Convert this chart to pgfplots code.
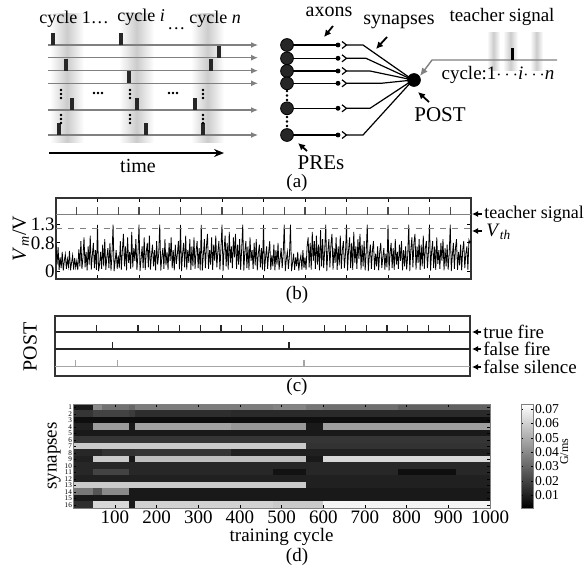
\documentclass[border=0pt]{standalone}
\usepackage{fontspec}
\setmainfont{Liberation Serif}
\usepackage{pgfplots}
\pgfplotsset{compat=1.18, /pgf/number format/assume math mode=true, /pgf/number format/1000 sep={}}
\usetikzlibrary{arrows.meta}
\newcommand{\fs}[1]{\fontsize{#1}{#1}\selectfont}
\begin{document}
\begin{tikzpicture}
% ---------------- overlay in pixel coordinates (panel a + annotations)
\begin{axis}[at={(0pt,0pt)}, anchor=north west, scale only axis, width=293.5pt, height=285.5pt,
  xmin=0, xmax=587, ymin=0, ymax=571, y dir=reverse, hide axis, clip=false]
% shaded cycle bands
\addplot[draw=none, left color=white, right color=white, middle color=gray!40] coordinates {(50,13)(84,13)(84,142)(50,142)};
\addplot[draw=none, left color=white, right color=white, middle color=gray!40] coordinates {(119,13)(154,13)(154,142)(119,142)};
\addplot[draw=none, left color=white, right color=white, middle color=gray!40] coordinates {(191,13)(224,13)(224,142)(191,142)};
% input lines
\addplot[gray, line width=0.6pt, -{Latex[length=3.5pt,width=3pt]}] coordinates {(48,45)(258,45)};
\addplot[gray, line width=0.6pt, -{Latex[length=3.5pt,width=3pt]}] coordinates {(48,57.7)(258,57.7)};
\addplot[gray, line width=0.6pt, -{Latex[length=3.5pt,width=3pt]}] coordinates {(48,70.7)(258,70.7)};
\addplot[gray, line width=0.6pt, -{Latex[length=3.5pt,width=3pt]}] coordinates {(48,83.3)(258,83.3)};
\addplot[gray, line width=0.6pt, -{Latex[length=3.5pt,width=3pt]}] coordinates {(48,110)(258,110)};
\addplot[gray, line width=0.6pt, -{Latex[length=3.5pt,width=3pt]}] coordinates {(48,135)(258,135)};
% input spikes
\addplot[only marks, mark=|, mark size=3pt, mark options={black!85, line width=2pt}] coordinates {
(53,39)(121,39)(219,51.7)(66,64.7)(211,64.7)(129,77.3)(72,104)(137,104)(195,104)(59,129)(146,129)(203,129)};
% ellipsis dots
\addplot[only marks, mark=*, mark size=0.45pt, black] coordinates {
(61,90)(61,94)(61,98)(130,90)(130,94)(130,98)(203,90)(203,94)(203,98)
(61,115)(61,119)(61,123)(130,115)(130,119)(130,123)(203,115)(203,119)(203,123)
(94,93)(98,93)(102,93)(169,93)(173,93)(177,93)
(287,91)(287,95.5)(287,100)(287,117)(287,121.5)(287,126)};
% time arrow
\addplot[black, line width=0.8pt, -{Stealth[length=5pt,width=4pt]}] coordinates {(49,153)(224,153)};
\node[font=\fs{10}] at (138,166) {time};
\node[font=\fs{9}, anchor=base west, inner sep=0pt] at (39,23) {cycle 1\ldots};
\node[font=\fs{9}, anchor=base west, inner sep=0pt] at (117,21) {cycle \textit{i}};
\node[font=\fs{9}, anchor=base west, inner sep=0pt] at (167,29) {\ldots};
\node[font=\fs{9}, anchor=base west, inner sep=0pt] at (189,23) {cycle \textit{n}};
% axons
\addplot[black, line width=0.7pt] coordinates {(287,45)(338,45)};
\addplot[black, line width=0.7pt] coordinates {(287,58.3)(338,58.3)};
\addplot[black, line width=0.7pt] coordinates {(287,71)(338,71)};
\addplot[black, line width=0.7pt] coordinates {(287,83.3)(338,83.3)};
\addplot[black, line width=0.7pt] coordinates {(287,108.3)(338,108.3)};
\addplot[black, line width=0.7pt] coordinates {(287,135)(338,135)};
\addplot[only marks, mark=*, mark size=1pt, black] coordinates {(338,45)(338,58.3)(338,71)(338,83.3)(338,108.3)(338,135)};
% synapse chevrons
\addplot[black, line width=0.6pt] coordinates {(342,41.5)(346.5,45)(342,48.5)};
\addplot[black, line width=0.6pt] coordinates {(342,54.8)(346.5,58.3)(342,61.8)};
\addplot[black, line width=0.6pt] coordinates {(342,67.5)(346.5,71)(342,74.5)};
\addplot[black, line width=0.6pt] coordinates {(342,79.8)(346.5,83.3)(342,86.8)};
\addplot[black, line width=0.6pt] coordinates {(342,104.8)(346.5,108.3)(342,111.8)};
\addplot[black, line width=0.6pt] coordinates {(342,131.5)(346.5,135)(342,138.5)};
% converging lines
\addplot[black, line width=0.6pt] coordinates {(347,45)(363,45)(413,80)};
\addplot[black, line width=0.6pt] coordinates {(347,58.3)(366,58.3)(413,80)};
\addplot[black, line width=0.6pt] coordinates {(347,71)(370,71)(413,80)};
\addplot[black, line width=0.6pt] coordinates {(347,83.3)(381,83.3)(413,80)};
\addplot[black, line width=0.6pt] coordinates {(347,108.3)(370,108.3)(413,80)};
\addplot[black, line width=0.6pt] coordinates {(347,135)(363,135)(413,80)};
% PRE neurons
\addplot[only marks, mark=*, mark size=3.2pt, mark options={fill=black!85, draw=black}] coordinates {(287,45)(287,58.3)(287,71)(287,83.3)(287,108.3)(287,135)};
\node[font=\fs{4}, text=white, inner sep=0pt] at (287,45) {1};
\node[font=\fs{4}, text=white, inner sep=0pt] at (287,58.3) {2};
\node[font=\fs{4}, text=white, inner sep=0pt] at (287,71) {3};
\node[font=\fs{4}, text=white, inner sep=0pt] at (287,83.3) {4};
\node[font=\fs{4}, text=white, inner sep=0pt] at (287,108.3) {9};
\node[font=\fs{4}, text=white, inner sep=0pt] at (287,135) {16};
% POST neuron
\addplot[only marks, mark=*, mark size=3.2pt, black] coordinates {(414,80)};
% teacher input
\addplot[draw=none, left color=white, right color=white, middle color=gray!40] coordinates {(487,32)(500,32)(500,70)(487,70)};
\addplot[draw=none, left color=white, right color=white, middle color=gray!40] coordinates {(503,32)(518,32)(518,70)(503,70)};
\addplot[draw=none, left color=white, right color=white, middle color=gray!40] coordinates {(530,32)(543,32)(543,70)(530,70)};
\addplot[gray, line width=0.7pt, -{Latex[length=4pt,width=3.5pt]}] coordinates {(557,60)(432,60)(420,76)};
\addplot[only marks, mark=|, mark size=3pt, mark options={black, line width=1.5pt}] coordinates {(512,54)};
\node[font=\fs{9.5}] at (502,17) {teacher signal};
\node[font=\fs{9.5}] at (498,75) {cycle:1$\cdots$\textit{i}$\cdots$\textit{n}};
\node[font=\fs{10}] at (329,12) {axons};
\addplot[black, line width=0.9pt, -{Latex[length=3.5pt,width=3.5pt]}] coordinates {(333,26)(324,37)};
\node[font=\fs{10}] at (399,22) {synapses};
\addplot[black, line width=0.9pt, -{Latex[length=3.5pt,width=3.5pt]}] coordinates {(387,37)(376,49)};
\node[font=\fs{10.5}] at (440,115) {POST};
\addplot[black, line width=0.9pt, -{Latex[length=3.5pt,width=3.5pt]}] coordinates {(429,102)(418,92)};
\node[font=\fs{10.5}] at (321,163) {PREs};
\addplot[black, line width=0.9pt, -{Latex[length=3.5pt,width=3.5pt]}] coordinates {(307,151)(298,143)};
% panel labels
\node[font=\fs{9.5}] at (297,183) {(a)};
\node[font=\fs{9.5}] at (297,295) {(b)};
\node[font=\fs{9.5}] at (297,387) {(c)};
\node[font=\fs{9.5}] at (297,557) {(d)};
% panel b annotations
\addplot[black, line width=0.6pt, -{Latex[length=3pt,width=3pt]}] coordinates {(482,214)(472,214)};
\node[font=\fs{9}, anchor=west, inner sep=0.5pt] at (483,214) {teacher signal};
\addplot[black, line width=0.6pt, -{Latex[length=3pt,width=3pt]}] coordinates {(482,231)(472,231)};
\node[font=\fs{9.5}, anchor=west, inner sep=0.5pt] at (485,232) {\textit{V}\textsubscript{\textit{th}}};
% panel c annotations
\addplot[black, line width=0.6pt, -{Latex[length=3pt,width=3pt]}] coordinates {(481,332)(472,332)};
\node[font=\fs{9.5}, anchor=west, inner sep=0.5pt] at (482,332) {true fire};
\addplot[black, line width=0.6pt, -{Latex[length=3pt,width=3pt]}] coordinates {(481,349)(472,349)};
\node[font=\fs{9.5}, anchor=west, inner sep=0.5pt] at (482,349) {false fire};
\addplot[black, line width=0.6pt, -{Latex[length=3pt,width=3pt]}] coordinates {(481,367)(472,367)};
\node[font=\fs{9.5}, anchor=west, inner sep=0.5pt] at (482,367) {false silence};
\node[font=\fs{10}, rotate=90] at (30,347) {POST};
\end{axis}

% ---------------- panel b
\begin{axis}[at={(28pt,-99pt)}, anchor=north west, scale only axis, width=207.5pt, height=40.5pt,
  xmin=0, xmax=10, ymin=-0.2, ymax=2.04,
  xtick={1,...,9}, xticklabels={}, ytick={0,0.8,1.3}, yticklabels={0,0.8,1.3},
  tick align=inside, major tick length=2pt, tick style={black, line width=0.5pt},
  axis line style={line width=0.6pt, black!80},
  yticklabel style={font=\fs{9.5}, inner xsep=0.5pt},
  ylabel={\textit{V}\textsubscript{\textit{m}}/V}, ylabel style={font=\fs{10}, yshift=-3pt}]
\addplot[black, line width=0.4pt] coordinates {
(0.000,0.75)(0.025,0.20)(0.050,0.68)(0.075,0.05)(0.100,0.40)(0.125,0.10)(0.150,0.55)(0.175,0.03)(0.200,0.30)(0.225,0.48)(0.250,0.08)(0.275,0.35)(0.300,0.15)(0.325,0.58)(0.350,0.04)(0.375,0.25)(0.400,0.45)(0.425,0.06)(0.450,0.38)(0.475,0.12)
(0.500,0.30)(0.525,0.05)(0.550,0.62)(0.575,0.15)(0.600,0.85)(0.625,0.08)(0.650,0.40)(0.675,0.95)(0.700,0.12)(0.725,0.55)(0.750,0.04)(0.775,0.70)(0.800,0.20)(0.825,1.00)(0.850,0.06)(0.875,0.45)(0.900,0.80)(0.925,0.10)(0.950,0.60)(0.975,0.05)
(1.000,1.30)(1.025,0.02)(1.050,0.20)(1.075,0.55)(1.100,0.08)(1.125,0.75)(1.150,0.15)(1.175,0.90)(1.200,0.05)(1.225,0.40)(1.250,0.65)(1.275,0.10)(1.300,0.80)(1.325,0.03)(1.350,0.50)(1.375,1.30)(1.400,0.02)(1.425,0.30)(1.450,0.60)(1.475,0.08)
(1.500,0.45)(1.525,0.10)(1.550,0.85)(1.575,0.06)(1.600,0.60)(1.625,1.05)(1.650,0.15)(1.675,0.70)(1.700,0.04)(1.725,0.95)(1.750,0.25)(1.775,0.55)(1.800,0.08)(1.825,1.10)(1.850,0.12)(1.875,0.65)(1.900,0.30)(1.925,0.90)(1.950,0.05)(1.975,0.50)
(2.000,1.30)(2.025,0.02)(2.050,0.35)(2.075,0.70)(2.100,0.10)(2.125,0.95)(2.150,0.05)(2.175,0.55)(2.200,0.80)(2.225,0.12)(2.250,1.00)(2.275,0.06)(2.300,0.45)(2.325,0.75)(2.350,0.15)(2.375,0.60)(2.400,0.04)(2.425,0.85)(2.450,0.20)(2.475,0.50)
(2.500,1.30)(2.525,0.03)(2.550,0.40)(2.575,0.65)(2.600,0.08)(2.625,0.90)(2.650,0.18)(2.675,0.55)(2.700,0.05)(2.725,0.80)(2.750,0.30)(2.775,0.95)(2.800,0.10)(2.825,0.60)(2.850,0.04)(2.875,0.75)(2.900,0.22)(2.925,0.50)(2.950,0.85)(2.975,0.07)
(3.000,1.30)(3.025,0.02)(3.050,0.50)(3.075,0.80)(3.100,0.12)(3.125,1.00)(3.150,0.06)(3.175,0.60)(3.200,0.25)(3.225,0.90)(3.250,0.05)(3.275,0.70)(3.300,0.15)(3.325,0.95)(3.350,0.08)(3.375,0.55)(3.400,0.85)(3.425,0.10)(3.450,0.65)(3.475,0.04)
(3.500,1.30)(3.525,0.03)(3.550,0.45)(3.575,0.90)(3.600,0.10)(3.625,0.70)(3.650,1.05)(3.675,0.08)(3.700,0.60)(3.725,0.20)(3.750,0.95)(3.775,0.05)(3.800,0.75)(3.825,0.30)(3.850,1.00)(3.875,0.12)(3.900,0.55)(3.925,0.85)(3.950,0.06)(3.975,0.65)
(4.000,1.30)(4.025,0.02)(4.050,0.60)(4.075,1.00)(4.100,0.15)(4.125,0.80)(4.150,0.06)(4.175,1.10)(4.200,0.25)(4.225,0.70)(4.250,0.10)(4.275,0.95)(4.300,0.40)(4.325,1.05)(4.350,0.08)(4.375,0.75)(4.400,0.20)(4.425,0.90)(4.450,0.05)(4.475,0.65)
(4.500,1.30)(4.525,0.03)(4.550,0.55)(4.575,0.85)(4.600,0.10)(4.625,0.70)(4.650,0.05)(4.675,0.95)(4.700,0.30)(4.725,0.60)(4.750,0.08)(4.775,0.80)(4.800,0.18)(4.825,0.90)(4.850,0.04)(4.875,0.50)(4.900,0.75)(4.925,0.12)(4.950,0.65)(4.975,0.06)
(5.000,1.30)(5.025,0.02)(5.050,0.40)(5.075,0.70)(5.100,0.08)(5.125,0.55)(5.150,0.85)(5.175,0.05)(5.200,0.45)(5.225,0.15)(5.250,0.75)(5.275,0.04)(5.300,0.60)(5.325,0.20)(5.350,0.80)(5.375,0.06)(5.400,0.35)(5.425,0.65)(5.450,0.10)(5.475,0.50)
(5.500,1.30)(5.525,0.02)(5.550,0.35)(5.575,0.55)(5.600,0.08)(5.625,0.45)(5.650,1.30)(5.675,0.02)(5.700,0.25)(5.725,0.50)(5.750,0.05)(5.775,0.40)(5.800,0.15)(5.825,0.55)(5.850,0.03)(5.875,0.30)(5.900,0.45)(5.925,0.06)(5.950,0.60)(5.975,0.10)
(6.000,0.40)(6.025,0.05)(6.050,0.70)(6.075,0.95)(6.100,0.12)(6.125,0.80)(6.150,0.06)(6.175,1.10)(6.200,0.30)(6.225,0.85)(6.250,0.08)(6.275,1.00)(6.300,0.20)(6.325,0.75)(6.350,0.04)(6.375,1.15)(6.400,0.15)(6.425,0.90)(6.450,0.10)(6.475,0.60)
(6.500,1.30)(6.525,0.02)(6.550,0.55)(6.575,0.90)(6.600,0.12)(6.625,0.75)(6.650,1.05)(6.675,0.06)(6.700,0.65)(6.725,0.25)(6.750,0.95)(6.775,0.05)(6.800,0.70)(6.825,0.18)(6.850,1.00)(6.875,0.08)(6.900,0.60)(6.925,0.85)(6.950,0.10)(6.975,0.50)
(7.000,1.30)(7.025,0.03)(7.050,0.60)(7.075,0.95)(7.100,0.10)(7.125,0.80)(7.150,0.05)(7.175,1.10)(7.200,0.25)(7.225,0.70)(7.250,0.08)(7.275,0.90)(7.300,0.35)(7.325,1.05)(7.350,0.06)(7.375,0.75)(7.400,0.15)(7.425,0.85)(7.450,0.04)(7.475,0.55)
(7.500,1.30)(7.525,0.02)(7.550,0.45)(7.575,0.75)(7.600,0.08)(7.625,0.60)(7.650,0.85)(7.675,0.05)(7.700,0.50)(7.725,0.15)(7.750,0.70)(7.775,0.04)(7.800,0.55)(7.825,0.80)(7.850,0.10)(7.875,0.40)(7.900,0.65)(7.925,0.06)(7.950,0.50)(7.975,0.12)
(8.000,1.30)(8.025,0.03)(8.050,0.50)(8.075,0.80)(8.100,0.10)(8.125,0.65)(8.150,0.05)(8.175,0.90)(8.200,0.20)(8.225,0.55)(8.250,0.08)(8.275,0.75)(8.300,0.30)(8.325,0.85)(8.350,0.04)(8.375,0.60)(8.400,0.15)(8.425,0.70)(8.450,0.06)(8.475,0.45)
(8.500,1.30)(8.525,0.02)(8.550,0.60)(8.575,0.95)(8.600,0.12)(8.625,0.80)(8.650,1.05)(8.675,0.06)(8.700,0.70)(8.725,0.25)(8.750,0.90)(8.775,0.05)(8.800,0.75)(8.825,0.15)(8.850,1.00)(8.875,0.08)(8.900,0.65)(8.925,0.85)(8.950,0.10)(8.975,0.55)
(9.000,1.30)(9.025,0.03)(9.050,0.55)(9.075,0.85)(9.100,0.10)(9.125,0.70)(9.150,0.05)(9.175,0.95)(9.200,0.22)(9.225,0.60)(9.250,0.08)(9.275,0.80)(9.300,0.30)(9.325,0.90)(9.350,0.04)(9.375,0.65)(9.400,0.15)(9.425,0.75)(9.450,0.06)(9.475,0.50)
(9.500,1.30)(9.525,0.02)(9.550,0.45)(9.575,0.80)(9.600,0.08)(9.625,0.65)(9.650,0.90)(9.675,0.05)(9.700,0.55)(9.725,0.18)(9.750,0.75)(9.775,0.04)(9.800,0.60)(9.825,0.85)(9.850,0.10)(9.875,0.50)(9.900,0.70)(9.925,0.06)(9.950,0.88)(9.975,0.80)(10.000,0.85)};
\addplot[gray, dashed, line width=0.5pt] coordinates {(0,1.2)(10,1.2)};
\addplot[gray, line width=0.5pt] coordinates {(0,1.57)(10,1.57)};
\addplot[only marks, mark=|, mark size=2pt, mark options={gray!60!black, line width=0.6pt}] coordinates {
(0.5,1.68)(1,1.68)(1.5,1.68)(2,1.68)(2.5,1.68)(3,1.68)(3.5,1.68)(4,1.68)(4.5,1.68)(5,1.68)
(5.5,1.68)(6,1.68)(6.5,1.68)(7,1.68)(7.5,1.68)(8,1.68)(8.5,1.68)(9,1.68)(9.5,1.68)};
\end{axis}

% ---------------- panel c
\begin{axis}[at={(27.5pt,-158pt)}, anchor=north west, scale only axis, width=207.5pt, height=30pt,
  xmin=0, xmax=10, ymin=0, ymax=6, xtick=\empty, ytick=\empty,
  axis line style={line width=0.8pt, black!80}]
\addplot[black!85, line width=0.7pt] coordinates {(0,4.4)(10,4.4)};
\addplot[black!85, line width=0.7pt] coordinates {(0,2.7)(10,2.7)};
\addplot[gray!70, line width=0.6pt] coordinates {(0,0.93)(10,0.93)};
\addplot[only marks, mark=|, mark size=1.75pt, mark options={black!85, line width=0.6pt}] coordinates {
(1,4.75)(2,4.75)(2.5,4.75)(3,4.75)(3.5,4.75)(4,4.75)(4.5,4.75)(5,4.75)(5.5,4.75)
(6.5,4.75)(7,4.75)(7.5,4.75)(8,4.75)(8.5,4.75)(9,4.75)(9.5,4.75)};
\addplot[only marks, mark=|, mark size=1.75pt, mark options={black!85, line width=0.6pt}] coordinates {(1.38,3.05)(5.64,3.05)};
\addplot[only marks, mark=|, mark size=1.75pt, mark options={gray!70, line width=0.6pt}] coordinates {(0.5,1.28)(1.5,1.28)(6.0,1.28)};
\end{axis}

% ---------------- panel d
\begin{axis}[at={(36.65pt,-202pt)}, anchor=north west, scale only axis, width=208.35pt, height=52pt,
  xmin=0, xmax=1000, ymin=0.5, ymax=16.5, y dir=reverse,
  xtick={100,200,...,1000}, ytick={1,...,16},
  tick align=inside, major tick length=1.5pt, tick style={black},
  xticklabel style={font=\fs{9.5}, inner ysep=1pt},
  yticklabel style={font=\fs{3.6}, inner xsep=0.5pt},
  xlabel={training cycle}, xlabel style={font=\fs{9.5}, yshift=2pt},
  ylabel={synapses}, ylabel style={font=\fs{9.5}, yshift=-2pt},
  colormap/blackwhite, point meta min=0.001, point meta max=0.0735,
  axis line style={gray}, axis on top,
  colorbar, colorbar style={at={(parent axis.north east)}, anchor=north west, xshift=7pt,
    scale only axis, width=6pt, height=52pt, scaled y ticks=false,
    ytick={0.01,0.02,0.03,0.04,0.05,0.06,0.07},
    yticklabel style={font=\fs{6.8}, inner xsep=0.8pt, /pgf/number format/fixed, /pgf/number format/precision=2, /pgf/number format/fixed zerofill},
    major tick length=1.2pt, axis line style={gray},
    ylabel={G/ms}, ylabel style={font=\fs{6}, at={(axis description cs:3.6,0.54)}, anchor=center}}]
\addplot[surf, shader=flat corner, mesh/cols=12, point meta=explicit] table[row sep=\\, x=x, y=y, meta=c] {
x y c\\
0 0.5 0.008\\ 48 0.5 0.040\\ 70 0.5 0.033\\ 135 0.5 0.030\\ 150 0.5 0.036\\ 380 0.5 0.036\\ 480 0.5 0.038\\ 560 0.5 0.034\\ 600 0.5 0.032\\ 780 0.5 0.028\\ 920 0.5 0.028\\ 1000 0.5 0.028\\
0 1.5 0.016\\ 48 1.5 0.020\\ 70 1.5 0.020\\ 135 1.5 0.018\\ 150 1.5 0.014\\ 380 1.5 0.013\\ 480 1.5 0.013\\ 560 1.5 0.013\\ 600 1.5 0.013\\ 780 1.5 0.013\\ 920 1.5 0.013\\ 1000 1.5 0.013\\
0 2.5 0.005\\ 48 2.5 0.005\\ 70 2.5 0.005\\ 135 2.5 0.005\\ 150 2.5 0.005\\ 380 2.5 0.005\\ 480 2.5 0.005\\ 560 2.5 0.005\\ 600 2.5 0.005\\ 780 2.5 0.005\\ 920 2.5 0.005\\ 1000 2.5 0.005\\
0 3.5 0.010\\ 48 3.5 0.045\\ 70 3.5 0.045\\ 135 3.5 0.008\\ 150 3.5 0.047\\ 380 3.5 0.044\\ 480 3.5 0.044\\ 560 3.5 0.008\\ 600 3.5 0.046\\ 780 3.5 0.046\\ 920 3.5 0.046\\ 1000 3.5 0.046\\
0 4.5 0.008\\ 48 4.5 0.008\\ 70 4.5 0.008\\ 135 4.5 0.008\\ 150 4.5 0.008\\ 380 4.5 0.008\\ 480 4.5 0.008\\ 560 4.5 0.008\\ 600 4.5 0.008\\ 780 4.5 0.008\\ 920 4.5 0.008\\ 1000 4.5 0.008\\
0 5.5 0.016\\ 48 5.5 0.016\\ 70 5.5 0.016\\ 135 5.5 0.016\\ 150 5.5 0.016\\ 380 5.5 0.016\\ 480 5.5 0.016\\ 560 5.5 0.016\\ 600 5.5 0.016\\ 780 5.5 0.016\\ 920 5.5 0.016\\ 1000 5.5 0.016\\
0 6.5 0.058\\ 48 6.5 0.058\\ 70 6.5 0.058\\ 135 6.5 0.058\\ 150 6.5 0.058\\ 380 6.5 0.058\\ 480 6.5 0.058\\ 560 6.5 0.015\\ 600 6.5 0.015\\ 780 6.5 0.015\\ 920 6.5 0.015\\ 1000 6.5 0.015\\
0 7.5 0.012\\ 48 7.5 0.012\\ 70 7.5 0.015\\ 135 7.5 0.015\\ 150 7.5 0.016\\ 380 7.5 0.010\\ 480 7.5 0.010\\ 560 7.5 0.010\\ 600 7.5 0.010\\ 780 7.5 0.010\\ 920 7.5 0.010\\ 1000 7.5 0.010\\
0 8.5 0.010\\ 48 8.5 0.058\\ 70 8.5 0.058\\ 135 8.5 0.008\\ 150 8.5 0.055\\ 380 8.5 0.055\\ 480 8.5 0.055\\ 560 8.5 0.008\\ 600 8.5 0.062\\ 780 8.5 0.062\\ 920 8.5 0.062\\ 1000 8.5 0.062\\
0 9.5 0.012\\ 48 9.5 0.012\\ 70 9.5 0.012\\ 135 9.5 0.012\\ 150 9.5 0.012\\ 380 9.5 0.012\\ 480 9.5 0.012\\ 560 9.5 0.012\\ 600 9.5 0.012\\ 780 9.5 0.012\\ 920 9.5 0.012\\ 1000 9.5 0.012\\
0 10.5 0.012\\ 48 10.5 0.020\\ 70 10.5 0.020\\ 135 10.5 0.012\\ 150 10.5 0.012\\ 380 10.5 0.012\\ 480 10.5 0.006\\ 560 10.5 0.012\\ 600 10.5 0.012\\ 780 10.5 0.005\\ 920 10.5 0.012\\ 1000 10.5 0.012\\
0 11.5 0.010\\ 48 11.5 0.010\\ 70 11.5 0.010\\ 135 11.5 0.010\\ 150 11.5 0.010\\ 380 11.5 0.010\\ 480 11.5 0.010\\ 560 11.5 0.010\\ 600 11.5 0.010\\ 780 11.5 0.010\\ 920 11.5 0.010\\ 1000 11.5 0.010\\
0 12.5 0.058\\ 48 12.5 0.058\\ 70 12.5 0.058\\ 135 12.5 0.058\\ 150 12.5 0.058\\ 380 12.5 0.058\\ 480 12.5 0.058\\ 560 12.5 0.010\\ 600 12.5 0.010\\ 780 12.5 0.010\\ 920 12.5 0.010\\ 1000 12.5 0.010\\
0 13.5 0.035\\ 48 13.5 0.025\\ 70 13.5 0.040\\ 135 13.5 0.008\\ 150 13.5 0.008\\ 380 13.5 0.008\\ 480 13.5 0.008\\ 560 13.5 0.008\\ 600 13.5 0.008\\ 780 13.5 0.008\\ 920 13.5 0.008\\ 1000 13.5 0.008\\
0 14.5 0.008\\ 48 14.5 0.008\\ 70 14.5 0.008\\ 135 14.5 0.008\\ 150 14.5 0.008\\ 380 14.5 0.008\\ 480 14.5 0.008\\ 560 14.5 0.008\\ 600 14.5 0.008\\ 780 14.5 0.008\\ 920 14.5 0.008\\ 1000 14.5 0.008\\
0 15.5 0.014\\ 48 15.5 0.062\\ 70 15.5 0.062\\ 135 15.5 0.008\\ 150 15.5 0.060\\ 380 15.5 0.060\\ 480 15.5 0.058\\ 560 15.5 0.058\\ 600 15.5 0.070\\ 780 15.5 0.070\\ 920 15.5 0.070\\ 1000 15.5 0.070\\
0 16.5 0.010\\ 48 16.5 0.010\\ 70 16.5 0.010\\ 135 16.5 0.010\\ 150 16.5 0.010\\ 380 16.5 0.010\\ 480 16.5 0.010\\ 560 16.5 0.010\\ 600 16.5 0.010\\ 780 16.5 0.010\\ 920 16.5 0.010\\ 1000 16.5 0.010\\
};
\end{axis}
\pgfresetboundingbox
\path (0pt,0pt) rectangle (293.5pt,-285.5pt);
\end{tikzpicture}
\end{document}
